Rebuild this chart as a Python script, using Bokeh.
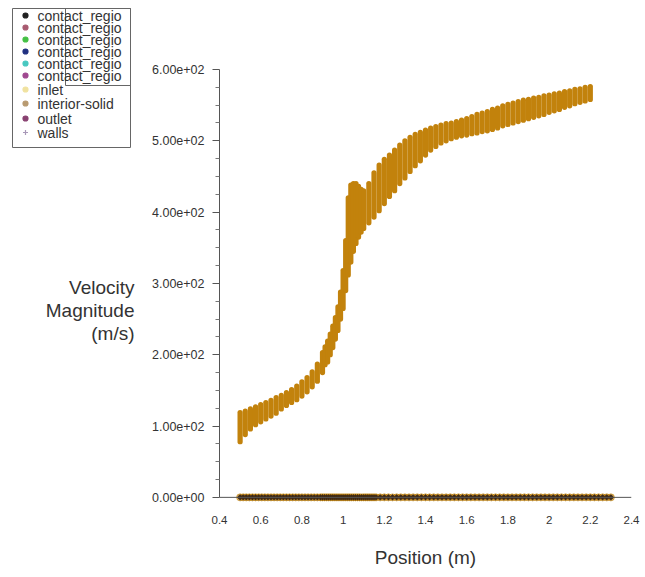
from bokeh.plotting import figure
from bokeh.models import Range1d, FixedTicker, Span
from bokeh.layouts import row
from bokeh.core.properties import value
from bokeh.embed import file_html
from bokeh.resources import INLINE

# ---------------- data ----------------
band_x = [0.500, 0.525, 0.550, 0.575, 0.600, 0.625, 0.650, 0.675, 0.700, 0.725,
          0.750, 0.775, 0.800, 0.825, 0.850, 0.875, 0.900, 0.9125, 0.925, 0.9375,
          0.950, 0.9625, 0.975, 0.9875, 1.000, 1.0125, 1.025, 1.0375, 1.050, 1.0625,
          1.075, 1.0875, 1.100, 1.125, 1.150, 1.175, 1.200, 1.225,
          1.250, 1.275, 1.300, 1.325, 1.350, 1.375, 1.400, 1.425, 1.450, 1.475,
          1.500, 1.525, 1.550, 1.575, 1.600, 1.625, 1.650, 1.675, 1.700, 1.725,
          1.750, 1.775, 1.800, 1.825, 1.850, 1.875, 1.900, 1.925, 1.950, 1.975,
          2.000, 2.025, 2.050, 2.075, 2.100, 2.125, 2.150, 2.175, 2.200]
band_lo = [78, 88, 96, 102, 106, 110, 114, 118, 124, 129,
           133, 137, 142, 148, 155, 163, 175, 186, 190, 200,
           210, 222, 234, 250, 265, 290, 312, 330, 345, 356,
           365, 372, 377, 385, 393, 402, 412, 422,
           430, 440, 448, 457, 465, 472, 480, 487, 492, 497,
           500, 503, 505, 507, 508, 510, 511, 513, 514, 516,
           518, 521, 523, 525, 527, 529, 531, 533, 535, 537,
           540, 542, 544, 547, 549, 552, 554, 556, 558]
band_hi = [119, 121, 124, 127, 130, 133, 136, 140, 143, 147,
           151, 156, 162, 168, 176, 187, 203, 211, 219, 229,
           240, 252, 267, 288, 318, 360, 420, 438, 440, 440,
           436, 432, 430, 440, 455, 466, 474, 480,
           487, 494, 500, 505, 509, 512, 515, 518, 520, 522,
           524, 525, 527, 529, 531, 534, 537, 539, 541, 544,
           546, 549, 551, 553, 555, 557, 558, 560, 561, 563,
           564, 566, 567, 569, 570, 572, 573, 575, 576]

zero_x = [0.500, 0.515, 0.530, 0.545, 0.560, 0.575, 0.590, 0.605, 0.620, 0.635,
          0.650, 0.665, 0.680, 0.695, 0.710, 0.725, 0.740, 0.755, 0.770, 0.785,
          0.800, 0.815, 0.830, 0.845, 0.860, 0.875, 0.890,
          0.900, 0.910, 0.920, 0.930, 0.940, 0.950, 0.960, 0.970, 0.980, 0.990,
          1.000, 1.010, 1.020, 1.030, 1.040, 1.050, 1.060, 1.070, 1.080, 1.090,
          1.100, 1.110, 1.120, 1.130, 1.140, 1.150, 1.160,
          1.18, 1.20, 1.22, 1.24, 1.26, 1.28, 1.30, 1.32, 1.34, 1.36, 1.38,
          1.40, 1.42, 1.44, 1.46, 1.48, 1.50, 1.52, 1.54, 1.56, 1.58, 1.60,
          1.62, 1.64, 1.66, 1.68, 1.70, 1.72, 1.74, 1.76, 1.78, 1.80, 1.82,
          1.84, 1.86, 1.88, 1.90, 1.92, 1.94, 1.96, 1.98, 2.00, 2.02, 2.04,
          2.06, 2.08, 2.10, 2.12, 2.14, 2.16, 2.18, 2.20, 2.22, 2.24, 2.26,
          2.28, 2.30]
zero_v = [0.0] * len(zero_x)

y_ticks = [0, 100, 200, 300, 400, 500, 600]
y_tick_labels = ["0.00e+00", "1.00e+02", "2.00e+02", "3.00e+02",
                 "4.00e+02", "5.00e+02", "6.00e+02"]
y_minor = [25, 50, 75, 125, 150, 175, 225, 250, 275, 325, 350, 375,
           425, 450, 475, 525, 550, 575]
x_ticks = [0.4, 0.6, 0.8, 1.0, 1.2, 1.4, 1.6, 1.8, 2.0, 2.2, 2.4]
x_tick_labels = ["0.4", "0.6", "0.8", "1", "1.2", "1.4", "1.6", "1.8", "2", "2.2", "2.4"]

y_title_lines = ["Velocity", "Magnitude", "(m/s)"]

legend_names = ["contact_regio", "contact_regio", "contact_regio", "contact_regio",
                "contact_regio", "contact_regio", "inlet", "interior-solid",
                "outlet", "walls"]
legend_colors = ["#202020", "#a85a70", "#44c044", "#203080", "#48c8c0",
                 "#a04890", "#f0e2a0", "#b89a70", "#884070", "#a898b8"]
legend_markers = ["circle"] * 9 + ["cross"]

BAND = "#C2820C"
FONT = "Liberation Sans"
TXT = "#333333"

TOTAL_W, TOTAL_H = 644, 576
LEFT_W = 140
FRAME_L, FRAME_R, FRAME_B = 219, 631, 504   # page pixels of the plot frame
Y600_PX = 69                                 # page pixel of the 600 tick
Y_START = -10
Y_END = Y_START + (600 - Y_START) * FRAME_B / (FRAME_B - Y600_PX)

# ---------------- left panel: legend + y title (pixel coordinates) ----------------
lp = figure(width=LEFT_W, height=TOTAL_H, x_range=Range1d(0, LEFT_W),
            y_range=Range1d(FRAME_B, 0), x_axis_type=None, y_axis_type=None,
            output_backend="svg", toolbar_location=None,
            min_border=0, min_border_left=0, min_border_right=0,
            min_border_top=0, min_border_bottom=TOTAL_H - FRAME_B)
lp.grid.visible = False
lp.outline_line_color = None

lp.quad(left=[12, 65], right=[130, 130], top=[8, 8], bottom=[147, 85],
        fill_alpha=0, line_color="#666666", line_width=1)
rows_y = [15, 27, 39, 51, 63, 75, 89, 103, 118, 132]
lp.scatter(x=[25] * len(rows_y), y=rows_y, marker=legend_markers, size=5,
           fill_color=legend_colors, line_color=legend_colors, line_width=1.2)
lp.text(x=[37] * len(rows_y), y=rows_y, text=legend_names,
        text_font=value(FONT), text_font_size="14px", text_color="#333333",
        text_align="left", text_baseline="middle")

lp.text(x=[134, 134, 134], y=[287, 310, 333], text=y_title_lines,
        text_font=value(FONT), text_font_size="19px", text_color=TXT,
        text_align="right", text_baseline="middle")

# ---------------- main plot ----------------
p = figure(width=TOTAL_W - LEFT_W, height=TOTAL_H,
           x_range=Range1d(0.4, 2.4), y_range=Range1d(Y_START, Y_END),
           output_backend="svg", toolbar_location=None,
           min_border_left=FRAME_L - LEFT_W, min_border_right=TOTAL_W - FRAME_R,
           min_border_top=0, min_border_bottom=TOTAL_H - FRAME_B)
p.grid.visible = False
p.outline_line_color = None

p.add_layout(Span(location=0, dimension="width", line_color="#555555", line_width=1))

p.segment(x0=band_x, y0=band_lo, x1=band_x, y1=band_hi, line_color=BAND,
          line_width=5.2, line_cap="round")

p.scatter(zero_x, zero_v, size=7, color=BAND, alpha=0.6)
p.scatter(zero_x, zero_v, size=4, color="#4a3018")
p.scatter(zero_x, zero_v, size=6, marker="cross", line_color="#3a2814", line_width=1)

xa = p.xaxis[0]
xa.ticker = FixedTicker(ticks=x_ticks, minor_ticks=[])
xa.major_label_overrides = {t: s for t, s in zip(x_ticks, x_tick_labels)}
xa.axis_line_color = None
xa.major_tick_line_color = None
xa.major_tick_in = 0
xa.major_tick_out = 0
xa.major_label_standoff = 11
xa.axis_label = "Position (m)"
xa.axis_label_text_font = FONT
xa.axis_label_text_font_size = "19px"
xa.axis_label_text_font_style = "normal"
xa.axis_label_text_color = TXT
xa.axis_label_standoff = 20

ya = p.yaxis[0]
ya.bounds = (0, 600)
ya.ticker = FixedTicker(ticks=y_ticks, minor_ticks=y_minor)
ya.major_label_overrides = {t: s for t, s in zip(y_ticks, y_tick_labels)}
ya.axis_line_color = "#555555"
ya.major_tick_line_color = "#555555"
ya.minor_tick_line_color = "#777777"
ya.major_tick_in = 0
ya.major_tick_out = 7
ya.minor_tick_in = 0
ya.minor_tick_out = 4
ya.major_label_standoff = 8

for ax in (xa, ya):
    ax.major_label_text_font = FONT
    ax.major_label_text_color = TXT
xa.major_label_text_font_size = "11.5px"
ya.major_label_text_font_size = "12.5px"

layout = row(lp, p, spacing=0)
open("out.html", "w").write(file_html(layout, INLINE))
